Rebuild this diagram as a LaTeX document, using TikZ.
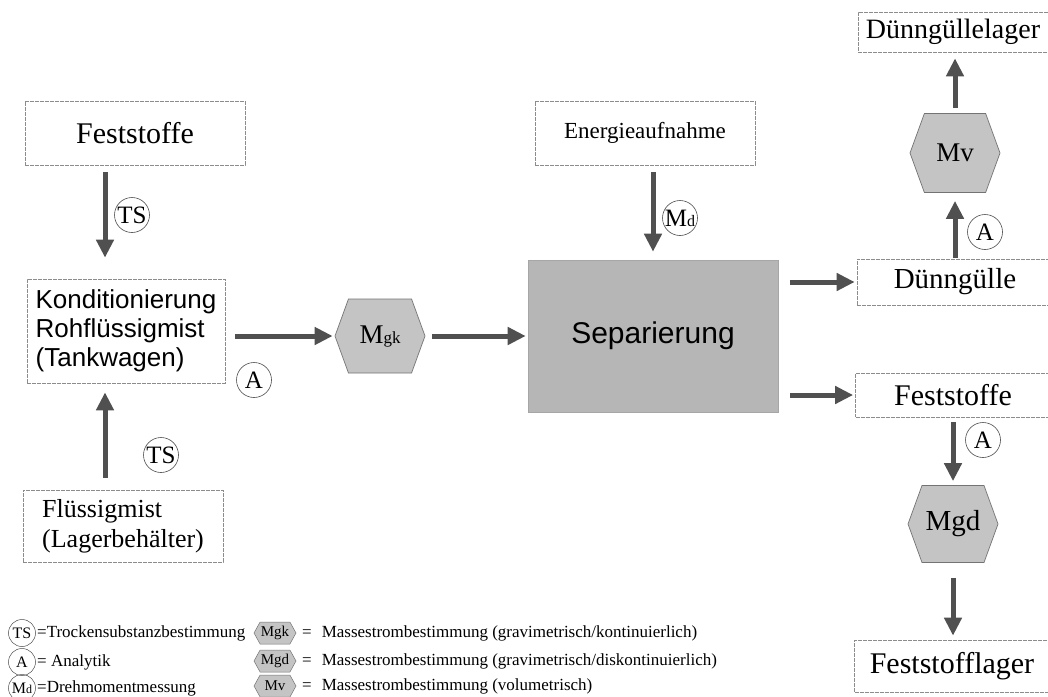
\documentclass[tikz,border=0pt]{standalone}
\usepackage{fontspec}
\setmainfont{Liberation Serif}
\newfontfamily\sansf{Liberation Sans}
\newfontfamily\serf{Liberation Serif}
\usetikzlibrary{shapes.symbols,arrows.meta,calc}
\definecolor{arrowc}{HTML}{505050}
\definecolor{hexfill}{HTML}{C4C4C4}
\definecolor{sepfill}{HTML}{B6B6B6}
\definecolor{boxline}{HTML}{8C8C8C}
\begin{document}
\begin{tikzpicture}[x=1pt,y=-1pt,
  pbox/.style={rectangle, draw=boxline, line width=0.7pt, dash pattern=on 4pt off 1pt, inner sep=0pt},
  lab/.style={font=\serf\fontsize{30}{32}\selectfont},
  flow/.style={draw=arrowc, line width=5pt, -{Triangle[width=17pt,length=18pt]}},
  meas/.style={circle, draw=black!70, line width=0.6pt, minimum size=35pt, inner sep=0pt, font=\serf\fontsize{25}{25}\selectfont},
  smeas/.style={circle, draw=black!70, line width=0.5pt, minimum size=27pt, inner sep=0pt, font=\serf\fontsize{16}{16}\selectfont},
  hexa/.style={signal, signal to=east and west, signal pointer angle=140, draw=black!55, fill=hexfill, line width=0.7pt, inner sep=0pt, minimum width=90pt, minimum height=74pt, font=\serf\fontsize{27}{27}\selectfont},
  shexa/.style={signal, signal to=east and west, signal pointer angle=122, draw=black!55, fill=hexfill, line width=0.5pt, inner sep=0pt, minimum width=42pt, minimum height=22pt, font=\serf\fontsize{15}{15}\selectfont},
  legtxt/.style={anchor=west, inner sep=0pt, font=\serf\fontsize{17}{18}\selectfont}
]
\useasboundingbox (0,0) rectangle (1048,696);

% boxes
\node[pbox, lab, minimum width=220pt, minimum height=64pt] (fsL) at (135,133) {Feststoffe};
\node[pbox, minimum width=198pt, minimum height=104pt, align=left, font=\sansf\fontsize{26}{29}\selectfont] (kond) at (126,331) {Konditionierung\\Rohflüssigmist\\(Tankwagen)};
\node[pbox, minimum width=200pt, minimum height=72pt, align=left, font=\serf\fontsize{26}{30}\selectfont] (flm) at (123,526) {\serf Flüssigmist\\\serf (Lagerbehälter)};
\node[pbox, minimum width=220pt, minimum height=64pt, font=\serf\fontsize{23}{26}\selectfont] (ener) at (645,133) {Energieaufnahme};
\node[rectangle, draw=black!35, fill=sepfill, line width=0.6pt, minimum width=250pt, minimum height=152pt, font=\sansf\fontsize{30}{32}\selectfont] (sep) at (653,336) {Separierung};
\node[pbox, font=\serf\fontsize{29}{32}\selectfont, minimum width=196pt, minimum height=46pt] (dnn) at (955,282) {Dünngülle};
\node[pbox, font=\serf\fontsize{28}{32}\selectfont, minimum width=190pt, minimum height=40pt] (dgl) at (953,32) {Dünngüllelager};
\node[pbox, lab, minimum width=195pt, minimum height=44pt] (fsR) at (953,395) {Feststoffe};
\node[pbox, lab, minimum width=195pt, minimum height=52pt] (fsl) at (952,666) {Feststofflager};

% hexagons
\node[hexa] (mgk) at (380,336) {M{\fontsize{17}{17}\selectfont gk}};
\node[hexa, minimum height=79pt] (mv) at (955,153) {Mv};
\node[hexa, minimum height=77pt, font=\serf\fontsize{29}{29}\selectfont] (mgd) at (953,524) {Mgd};

% measurement circles
\node[meas] (ts1) at (132,215) {TS};
\node[meas] (ts2) at (161,455) {TS};
\node[meas] (a1) at (254,380) {A};
\node[meas] (md) at (680,218) {M{\fontsize{16}{16}\selectfont d}};
\node[meas] (a2) at (985,232) {A};
\node[meas] (a3) at (983,440) {A};

% arrows
\coordinate (xl) at (105,0);
\draw[flow, shorten <=7pt, shorten >=21pt] (fsL.south -| xl) -- (kond.north -| xl);
\draw[flow, shorten <=12pt, shorten >=9pt] (flm.north -| xl) -- (kond.south -| xl);
\draw[flow, shorten <=10pt, shorten >=2pt] (mgk.west -| kond.east) -- (mgk.west);
\draw[flow, shorten <=7pt, shorten >=2pt] (mgk.east) -- (mgk.east -| sep.west);
\draw[flow, shorten <=7pt, shorten >=8pt] (ener.south -| sep.north) -- (sep.north);
\draw[flow, shorten <=12pt, shorten >=2pt] (dnn.west -| sep.east) -- (dnn.west);
\draw[flow, shorten <=12pt, shorten >=2pt] (fsR.west -| sep.east) -- (fsR.west);
\draw[flow, shorten <=1pt, shorten >=8pt] (mv.south |- dnn.north) -- (mv.south);
\draw[flow, shorten <=5pt, shorten >=6pt] (mv.north) -- (mv.north |- dgl.south);
\draw[flow, shorten <=5pt, shorten >=4pt] (mgd.north |- fsR.south) -- (mgd.north);
\draw[flow, shorten <=15pt, shorten >=4pt] (mgd.south) -- (mgd.south |- fsl.north);

% legend
\node[smeas] (lts) at (22,633) {TS};
\node[legtxt] (ltst) at (37,633) {=Trockensubstanzbestimmung};
\node[smeas] (la) at (22,662) {A};
\node[legtxt] (lat) at (37,662) {= Analytik};
\node[smeas] (lmd) at (22,688) {M{\fontsize{12}{12}\selectfont d}};
\node[legtxt] (lmdt) at (37,688) {=Drehmomentmessung};
\node[shexa] (lmgk) at (275,633) {Mgk};
\node[legtxt] (lmgkt) at (302,633) {=\hspace{10pt}Massestrombestimmung (gravimetrisch/kontinuierlich)};
\node[shexa] (lmgd) at (275,661) {Mgd};
\node[legtxt] (lmgdt) at (302,661) {=\hspace{10pt}Massestrombestimmung (gravimetrisch/diskontinuierlich)};
\node[shexa] (lmv) at (275,686) {Mv};
\node[legtxt] (lmvt) at (302,686) {=\hspace{10pt}Massestrombestimmung (volumetrisch)};
\end{tikzpicture}
\end{document}
